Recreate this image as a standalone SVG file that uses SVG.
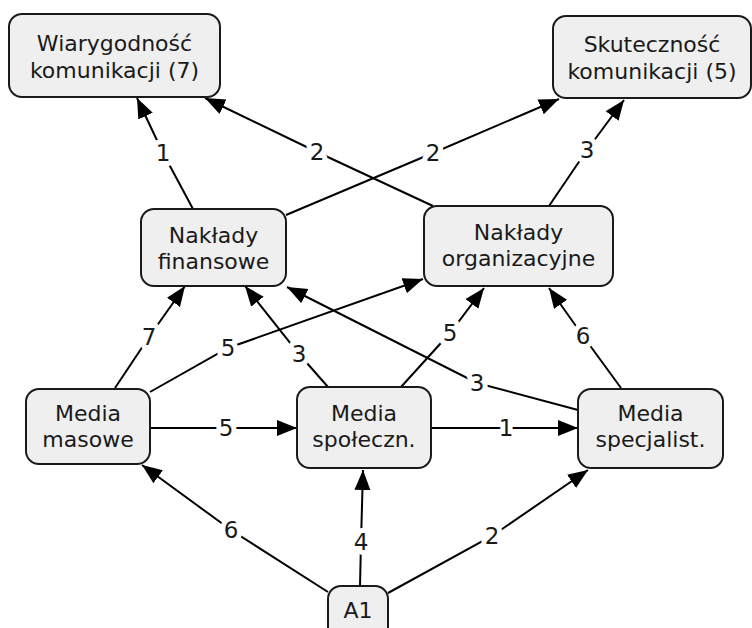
<svg xmlns="http://www.w3.org/2000/svg" width="752" height="628" viewBox="0 0 752 628">
<style>
.node rect{fill:#efefef;stroke:#1a1a1a;stroke-width:2}
text{font-family:"DejaVu Sans","Liberation Sans",sans-serif;font-size:22px;fill:#1a1a1a;text-anchor:middle}
.edge polyline{fill:none;stroke:#000;stroke-width:2;marker-end:url(#ah)}
.lbl{font-size:23px;stroke:#fff;stroke-width:10;paint-order:stroke;stroke-linejoin:round}
</style>
<defs>
<marker id="ah" markerUnits="userSpaceOnUse" markerWidth="22" markerHeight="18" refX="20" refY="8" orient="auto">
<path d="M0,0 L20,8 L0,16 z" fill="#000"/>
</marker>
</defs>
<rect width="752" height="628" fill="#fff"/>
<g id="connectors" class="edge">
<polyline points="193,209 163,153 137,98"/>
<polyline points="433,206 317,152 205,98"/>
<polyline points="286,215 433,153 559,99"/>
<polyline points="549,206 587,150 624,100"/>
<polyline points="115,388 149,337 185,286"/>
<polyline points="150,392 228,348 423,279"/>
<polyline points="328,387 299,354 245,286"/>
<polyline points="401,387 450,333 484,288"/>
<polyline points="578,410 477,383 287,287"/>
<polyline points="621,388 583,336 549,288"/>
<polyline points="150,428 226,428 297,428"/>
<polyline points="431,428 506,428 578,428"/>
<polyline points="328,592 231,530 142,465"/>
<polyline points="360,586 361,542 363,470"/>
<polyline points="388,593 492,536 588,470"/>
</g>
<g id="labels">
<text class="lbl" x="163" y="161">1</text>
<text class="lbl" x="317" y="160">2</text>
<text class="lbl" x="433" y="161">2</text>
<text class="lbl" x="587" y="158">3</text>
<text class="lbl" x="149" y="345">7</text>
<text class="lbl" x="228" y="356">5</text>
<text class="lbl" x="299" y="362">3</text>
<text class="lbl" x="450" y="341">5</text>
<text class="lbl" x="477" y="391">3</text>
<text class="lbl" x="583" y="344">6</text>
<text class="lbl" x="226" y="436">5</text>
<text class="lbl" x="506" y="436">1</text>
<text class="lbl" x="231" y="538">6</text>
<text class="lbl" x="361" y="550">4</text>
<text class="lbl" x="492" y="544">2</text>
</g>
<g id="n-wiarygodnosc" class="node">
<rect x="9" y="14" width="211" height="83" rx="13"/>
<text x="114.5" y="51">Wiarygodność</text>
<text x="114.5" y="78">komunikacji (7)</text>
</g>
<g id="n-skutecznosc" class="node">
<rect x="553" y="16" width="198" height="82" rx="13"/>
<text x="652" y="52">Skuteczność</text>
<text x="652" y="79">komunikacji (5)</text>
</g>
<g id="n-naklady-fin" class="node">
<rect x="141" y="209" width="145" height="77" rx="13"/>
<text x="213.5" y="243">Nakłady</text>
<text x="213.5" y="269">finansowe</text>
</g>
<g id="n-naklady-org" class="node">
<rect x="424" y="206" width="189" height="80" rx="13"/>
<text x="518.5" y="240">Nakłady</text>
<text x="518.5" y="266">organizacyjne</text>
</g>
<g id="n-media-masowe" class="node">
<rect x="26" y="389" width="124" height="75" rx="13"/>
<text x="88" y="421">Media</text>
<text x="88" y="447">masowe</text>
</g>
<g id="n-media-spol" class="node">
<rect x="297" y="387" width="134" height="81" rx="13"/>
<text x="364" y="421">Media</text>
<text x="364" y="447">społeczn.</text>
</g>
<g id="n-media-spec" class="node">
<rect x="578" y="389" width="145" height="79" rx="13"/>
<text x="650.5" y="421">Media</text>
<text x="650.5" y="447">specjalist.</text>
</g>
<g id="n-a1" class="node">
<rect x="328" y="586" width="60" height="60" rx="13"/>
<text x="358" y="618">A1</text>
</g>
</svg>
